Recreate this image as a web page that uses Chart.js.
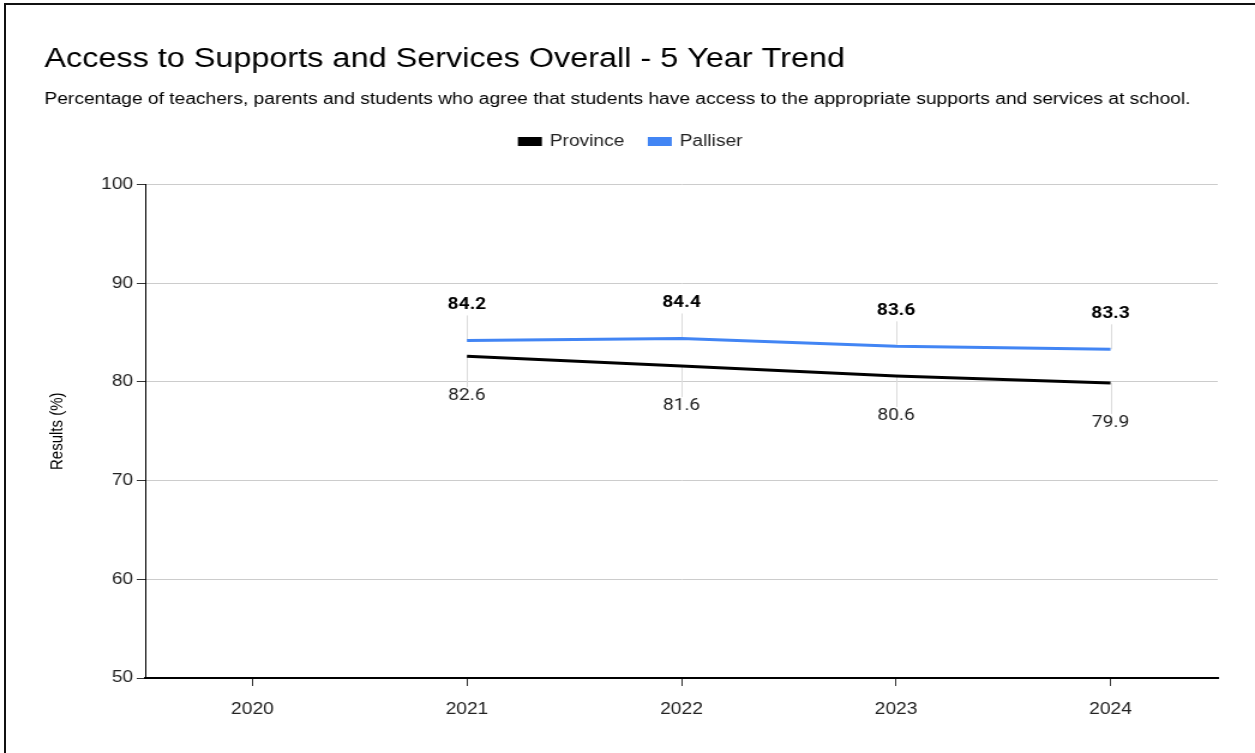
<!DOCTYPE html>
<html>
<head>
<meta charset="utf-8">
<script src="https://cdn.jsdelivr.net/npm/chart.js@4.4.1/dist/chart.umd.min.js"></script>
<style>
  body { margin: 0; background: #fff; }
  #frame { position: absolute; left: 4px; top: 3px; right: 0; bottom: 0; border-top: 2px solid #111; border-left: 2px solid #111; }
  #wrap { position: absolute; left: 0; top: 0; width: 1046px; height: 753px; transform: scaleX(1.1998); transform-origin: 0 0; }
</style>
</head>
<body>
<div id="frame"></div>
<div id="wrap"><canvas id="trend"></canvas></div>
<script>
var years = ['2020', '2021', '2022', '2023', '2024'];
var province = [null, 82.6, 81.6, 80.6, 79.9];
var palliser = [null, 84.2, 84.4, 83.6, 83.3];

var y_min = 50;
var y_max = 100;
var y_step = 10;

Chart.defaults.font.family = '"Liberation Sans", Arial, sans-serif';
Chart.defaults.color = '#222';

// push the plot area down below the legend
const legend_margin = {
    id: 'legend_margin',
    beforeInit(chart) {
        const fit = chart.legend.fit;
        chart.legend.fit = function () {
            fit.bind(chart.legend)();
            this.height = 72;
        };
    }
};

// value labels with thin stems, above for Palliser, below for Province
const value_labels = {
    id: 'value_labels',
    beforeDatasetsDraw(chart) {
        const ctx = chart.ctx;
        ctx.save();
        ctx.strokeStyle = '#dcdcdc';
        ctx.lineWidth = 1;
        chart.data.datasets.forEach(function (ds, i) {
            const above = i === 1;
            chart.getDatasetMeta(i).data.forEach(function (pt, j) {
                if (ds.data[j] == null) return;
                ctx.beginPath();
                ctx.moveTo(Math.round(pt.x) + 0.5, pt.y);
                ctx.lineTo(Math.round(pt.x) + 0.5, above ? pt.y - 25 : pt.y + 31);
                ctx.stroke();
            });
        });
        ctx.restore();
    },
    afterDatasetsDraw(chart) {
        const ctx = chart.ctx;
        ctx.save();
        ctx.textAlign = 'center';
        ctx.textBaseline = 'middle';
        chart.data.datasets.forEach(function (ds, i) {
            const above = i === 1;
            ctx.font = (above ? 'bold ' : '') + '16px Roboto, "Liberation Sans", sans-serif';
            ctx.fillStyle = above ? '#000' : '#222';
            chart.getDatasetMeta(i).data.forEach(function (pt, j) {
                if (ds.data[j] == null) return;
                ctx.fillText(ds.data[j].toFixed(1), pt.x, above ? pt.y - 35 : pt.y + 40);
            });
        });
        ctx.restore();
    }
};

const trend_chart = new Chart(document.getElementById('trend'), {
    type: 'line',
    data: {
        labels: years,
        datasets: [
            {
                label: 'Province',
                data: province,
                borderColor: '#000',
                backgroundColor: '#000',
                borderWidth: 3,
                pointRadius: 0,
                tension: 0
            },
            {
                label: 'Palliser',
                data: palliser,
                borderColor: '#4285F4',
                backgroundColor: '#4285F4',
                borderWidth: 3,
                pointRadius: 0,
                tension: 0
            }
        ]
    },
    options: {
        responsive: true,
        maintainAspectRatio: false,
        animation: false,
        layout: {
            padding: { left: 37, right: 31, top: 0, bottom: 0 }
        },
        plugins: {
            title: {
                display: true,
                text: 'Access to Supports and Services Overall - 5 Year Trend',
                align: 'start',
                color: '#000',
                font: { size: 27, weight: 'normal' },
                padding: { top: 43.3, bottom: 0 }
            },
            subtitle: {
                display: true,
                text: 'Percentage of teachers, parents and students who agree that students have access to the appropriate supports and services at school.',
                align: 'start',
                color: '#000',
                font: { size: 16 },
                padding: { top: 14.2, bottom: 3.4 }
            },
            legend: {
                position: 'top',
                labels: {
                    boxWidth: 17,
                    boxHeight: 6,
                    padding: 21,
                    color: '#222',
                    font: { size: 16 }
                }
            },
            tooltip: { enabled: false }
        },
        scales: {
            x: {
                offset: true,
                afterFit(scale) { scale.height = 75; },
                grid: {
                    drawOnChartArea: false,
                    drawTicks: true,
                    tickLength: 8,
                    tickColor: '#333'
                },
                border: { display: true, color: '#000', width: 2 },
                ticks: { padding: 14, color: '#222', font: { size: 16 } }
            },
            y: {
                min: y_min,
                max: y_max,
                afterFit(scale) { scale.width = 84; },
                title: {
                    display: true,
                    text: 'Results (%)',
                    color: '#000',
                    font: { size: 15 },
                    padding: { top: 1.5, bottom: 0 }
                },
                grid: {
                    color: '#cccccc',
                    tickColor: '#333',
                    tickLength: 7
                },
                border: { display: true, color: '#000', width: 1 },
                ticks: {
                    stepSize: y_step,
                    padding: 3,
                    color: '#222',
                    font: { size: 16 }
                }
            }
        }
    },
    plugins: [legend_margin, value_labels]
});
</script>
</body>
</html>
